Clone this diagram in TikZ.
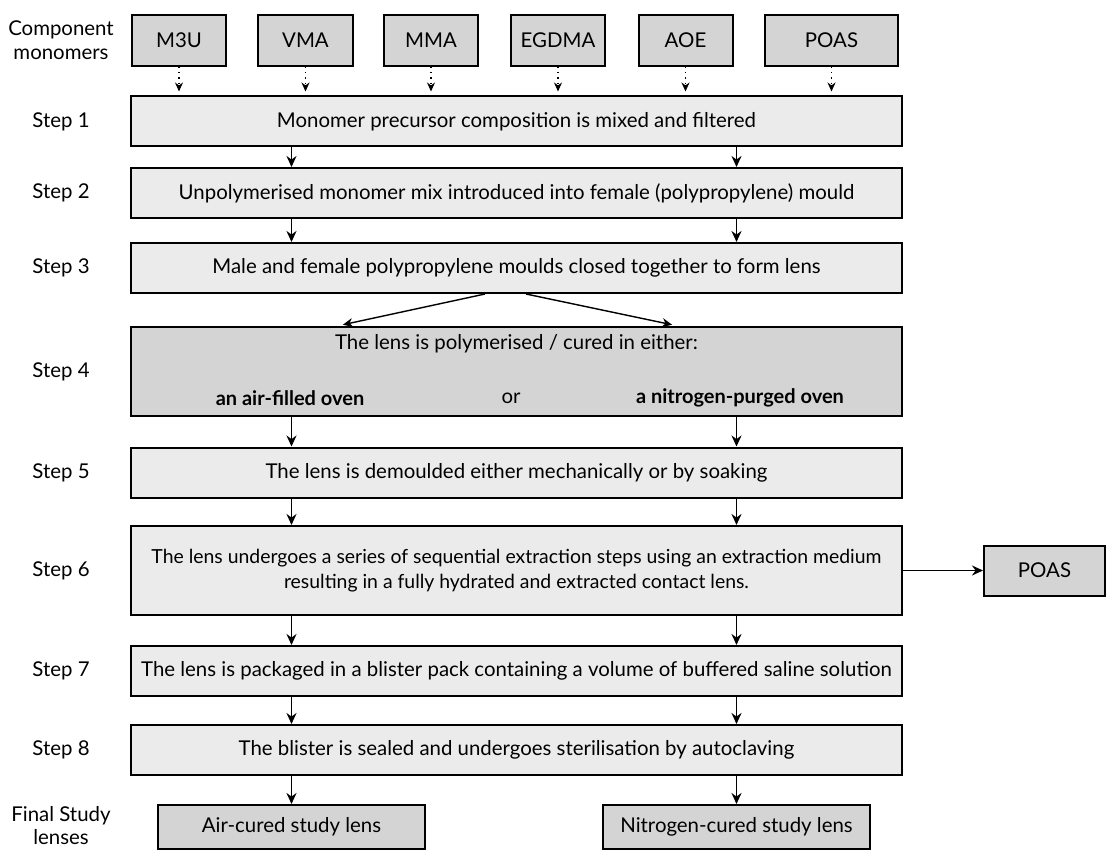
\documentclass[tikz,border=0pt]{standalone}
\usepackage{fontspec}
\setmainfont{Lato}
\usetikzlibrary{arrows.meta,positioning}
\definecolor{steplight}{RGB}{235,235,235}
\definecolor{stepdark}{RGB}{212,212,212}
\tikzstyle{stepbox} = [rectangle, minimum width=385.5pt, minimum height=25pt, text centered, draw=black, line width=1pt, fill=steplight]
\tikzstyle{tallbox} = [stepbox, minimum height=44.5pt, align=center, inner xsep=2pt]
\tikzstyle{monomer} = [rectangle, minimum width=47pt, minimum height=25.5pt, text centered, draw=black, line width=1pt, fill=stepdark]
\tikzstyle{lensbox} = [rectangle, minimum width=133.5pt, minimum height=22pt, text centered, draw=black, line width=1pt, fill=stepdark]
\tikzstyle{steplabel} = [align=center]
\tikzstyle{oventxt} = [font=\bfseries]
\tikzstyle{arrow} = [line width=0.9pt,-{Stealth[length=5.5pt,width=5pt]}]
\tikzstyle{split} = [line width=0.7pt,-{Stealth[length=5pt,width=4.5pt]}, shorten >=3pt]
\tikzstyle{dotarrow} = [line width=0.6pt, dotted, -{Stealth[length=4.5pt,width=4pt]}, shorten >=2pt]

\begin{document}
\begin{tikzpicture}[node distance=1.2cm, font=\fontsize{10.2}{12}\selectfont]
            \useasboundingbox (-258.25pt,60.75pt) rectangle (294.75pt,-364.25pt);
            \node (step1) [stepbox] {Monomer precursor composition is mixed and filtered};
            \node (step2) [stepbox, below of=step1, node distance=35.75pt] {Unpolymerised monomer mix introduced into female (polypropylene) mould};
            \node (step3) [stepbox, below of=step2, node distance=37.5pt] {Male and female polypropylene moulds closed together to form lens};
            \node (step4) [tallbox, fill=stepdark, below of=step3, node distance=51.75pt] {};
            \node (step5) [stepbox, below of=step4, node distance=50.5pt] {The lens is demoulded either mechanically or by soaking};
            \node (step6) [tallbox, below of=step5, node distance=49pt, font=\fontsize{9.7}{12.5}\selectfont] {The lens undergoes a series of sequential extraction steps using an extraction medium\\resulting in a fully hydrated and extracted contact lens.};
            \node (step7) [stepbox, below of=step6, node distance=50.25pt] {The lens is packaged in a blister pack containing a volume of buffered saline solution};
            \node (step8) [stepbox, below of=step7, node distance=39.5pt] {The blister is sealed and undergoes sterilisation by autoclaving};

            % text inside step 4
            \node (curetitle) [yshift=-9pt] at (step4.north) {The lens is polymerised / cured in either:};
            \node (airoven) [oventxt, xshift=-113.25pt, yshift=9.5pt] at (step4.south) {an air-filled oven};
            \node (ortxt) [xshift=-2.75pt, yshift=9.5pt] at (step4.south) {or};
            \node (nitroven) [oventxt, xshift=111.75pt, yshift=9.5pt] at (step4.south) {a nitrogen-purged oven};

            % monomers
            \node (m3u) [monomer, above of=step1, node distance=40.5pt, xshift=-168.75pt] {M3U};
            \node (vma) [monomer, right of=m3u, node distance=63.25pt] {VMA};
            \node (mma) [monomer, right of=vma, node distance=62.75pt] {MMA};
            \node (egdma) [monomer, right of=mma, node distance=63.5pt] {EGDMA};
            \node (aoe) [monomer, right of=egdma, node distance=63.75pt] {AOE};
            \node (poas) [monomer, right of=aoe, node distance=73pt, minimum width=66.5pt] {POAS};

            \node (poasout) [monomer, right of=step6, node distance=264pt, minimum width=60.5pt, minimum height=25pt] {POAS};

            % final lenses
            \node (airlens) [lensbox, below of=step8, node distance=38.5pt, xshift=-112.5pt] {Air-cured study lens};
            \node (nitrolens) [lensbox, below of=step8, node distance=38.5pt, xshift=110pt] {Nitrogen-cured study lens};

            % labels
            \node (complab) [steplabel, left of=m3u, node distance=59pt] {Component\\monomers};
            \node (lab1) [steplabel, left of=step1, node distance=227.75pt] {Step 1};
            \node (lab2) [steplabel, left of=step2, node distance=227.75pt] {Step 2};
            \node (lab3) [steplabel, left of=step3, node distance=227.75pt] {Step 3};
            \node (lab4) [steplabel, left of=step4, node distance=227.75pt] {Step 4};
            \node (lab5) [steplabel, left of=step5, node distance=227.75pt] {Step 5};
            \node (lab6) [steplabel, left of=step6, node distance=227.75pt] {Step 6};
            \node (lab7) [steplabel, left of=step7, node distance=227.75pt] {Step 7};
            \node (lab8) [steplabel, left of=step8, node distance=227.75pt] {Step 8};
            \node (finallab) [steplabel, left of=airlens, node distance=115.25pt, yshift=0.5pt, font=\fontsize{10.2}{11.5}\selectfont] {Final Study\\lenses};

            \draw [dotarrow] (m3u.south) -- (m3u.south |- step1.north);
            \draw [dotarrow] (vma.south) -- (vma.south |- step1.north);
            \draw [dotarrow] (mma.south) -- (mma.south |- step1.north);
            \draw [dotarrow] (egdma.south) -- (egdma.south |- step1.north);
            \draw [dotarrow] (aoe.south) -- (aoe.south |- step1.north);
            \draw [dotarrow] (poas.south) -- (poas.south |- step1.north);

            \draw [arrow] (step1.south -| airlens) -- (step2.north -| airlens);
            \draw [arrow] (step1.south -| nitrolens) -- (step2.north -| nitrolens);
            \draw [arrow] (step2.south -| airlens) -- (step3.north -| airlens);
            \draw [arrow] (step2.south -| nitrolens) -- (step3.north -| nitrolens);
            \draw [split] ([xshift=-15.75pt]step3.south) -- ([xshift=-89.75pt]step4.north);
            \draw [split] ([xshift=4.75pt]step3.south) -- ([xshift=80.75pt]step4.north);
            \draw [arrow] (step4.south -| airlens) -- (step5.north -| airlens);
            \draw [arrow] (step4.south -| nitrolens) -- (step5.north -| nitrolens);
            \draw [arrow] (step5.south -| airlens) -- (step6.north -| airlens);
            \draw [arrow] (step5.south -| nitrolens) -- (step6.north -| nitrolens);
            \draw [arrow] (step6.south -| airlens) -- (step7.north -| airlens);
            \draw [arrow] (step6.south -| nitrolens) -- (step7.north -| nitrolens);
            \draw [arrow] (step7.south -| airlens) -- (step8.north -| airlens);
            \draw [arrow] (step7.south -| nitrolens) -- (step8.north -| nitrolens);
            \draw [arrow] (step8.south -| airlens) -- (airlens);
            \draw [arrow] (step8.south -| nitrolens) -- (nitrolens);
            \draw [arrow] (step6) -- (poasout);
        \end{tikzpicture}
\end{document}
